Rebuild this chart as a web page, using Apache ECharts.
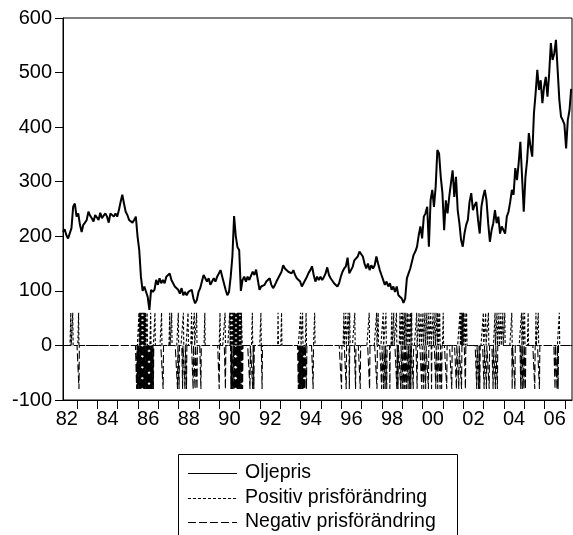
<!DOCTYPE html>
<html>
<head>
<meta charset="utf-8">
<script src="https://cdn.jsdelivr.net/npm/echarts@6/dist/echarts.min.js"></script>
<style>
html,body{margin:0;padding:0;background:#fff;}
#chart{width:573px;height:535px;}
</style>
</head>
<body>
<div id="chart"></div>
<script>
// Oil price, monthly readings starting at priceStart (decimal year)
const priceStart = 1982.31;
const priceStep = 1 / 12;
const oilPrice = [
  208,213,202,196,198,215,254,260,236,242,
  221,208,221,225,230,245,238,233,227,239,
  236,230,243,233,238,242,236,225,242,245,
  236,242,236,248,263,276,260,245,239,230,
  233,225,230,236,200,175,126,100,108,111,
  89,65,102,98,102,120,111,123,114,120,
  114,126,123,132,120,114,108,111,102,95,
  105,92,98,92,98,95,102,86,77,83,
  98,105,117,129,126,117,123,111,117,123,
  117,126,123,138,126,114,102,92,98,
  126,163,237,200,180,175,100,120,126,117,126,
  120,128,135,129,139,120,102,108,108,111,
  117,120,123,111,105,110,117,123,129,135,
  147,141,138,135,138,132,138,129,123,120,
  117,108,105,120,126,133,138,145,129,117,
  126,120,126,120,125,132,143,129,123,120,
  114,114,108,114,126,135,141,145,161,132,
  138,144,156,156,163,172,173,163,150,141,
  150,138,147,141,147,163,150,138,129,120,
  111,117,108,114,102,108,98,108,92,
  89,86,78,86,123,132,141,144,166,172,181,
  202,218,196,236,242,254,181,266,285,254,
  291,358,352,309,279,211,266,242,272,297,
  321,272,309,248,224,193,181,205,221,230,
  263,279,248,257,263,230,205,254,272,285,
  266,224,190,211,224,248,224,236,205,218,
  215,205,236,245,263,285,276,325,303,334,
  373,309,245,309,340,389,364,346,425,462,
  505,468,486,444,474,492,456,498,554,523,
  535,560,505,450,419,413,405,361,413,431,470
];

// Weeks (decimal years) with a positive / negative price change marker
const posEvents = [
  1982.69,1982.79,1983.08,
  1986.05,1986.09,1986.13,1986.17,1986.21,1986.25,1986.29,1986.33,1986.38,1986.45,1986.62,1986.83,
  1987.16,1987.57,1987.65,1987.98,1988.23,1988.47,1988.64,1988.77,1988.88,1989.29,
  1990.03,1990.28,1990.52,1990.56,1990.60,1990.64,1990.67,1990.71,1990.74,1990.78,1990.82,1990.86,
  1990.89,1990.93,1990.97,1991.01,1991.04,1991.08,1991.11,1991.63,1992.05,1992.88,1993.06,
  1994.00,1994.10,1994.26,1994.70,1996.13,1996.23,1996.34,1996.42,1996.67,1997.37,1997.74,1997.82,
  1998.06,1998.20,1998.48,1998.59,1998.72,1998.88,1998.96,1999.03,1999.10,1999.18,1999.25,1999.32,
  1999.40,1999.46,1999.71,1999.82,1999.92,2000.02,2000.12,2000.21,2000.31,2000.41,2000.51,2000.61,
  2000.71,2000.77,2000.85,2001.01,2001.84,2001.90,2001.96,2002.02,2002.08,2002.17,2002.98,2003.11,
  2003.23,2003.56,2003.66,2003.75,2003.85,2003.95,2004.05,2004.38,2004.87,2004.95,2005.03,2005.20,
  2005.57,2005.69,2006.72
];
const negEvents = [
  1983.10,
  1985.93,1985.97,1986.01,1986.06,1986.10,1986.14,1986.18,1986.22,1986.26,1986.30,1986.34,
  1986.39,1986.43,1986.47,1986.50,1986.55,1986.59,1986.63,1986.67,1986.71,1986.75,
  1987.24,1987.95,1988.03,1988.20,1988.31,1988.39,1988.72,1988.80,1988.90,1989.10,
  1990.00,1990.30,1990.57,1990.61,1990.66,1990.69,1990.73,1990.77,1990.82,1990.86,1990.90,
  1990.94,1990.98,1991.02,1991.06,1991.10,1991.15,1991.51,1991.65,1991.70,1992.11,
  1993.88,1993.92,1993.97,1994.01,1994.05,1994.09,1994.13,1994.17,1994.21,1994.28,1994.62,
  1996.02,1996.25,1996.39,1996.70,1996.93,1997.39,1997.76,1997.98,1998.08,1998.15,1998.23,1998.39,
  1998.74,1998.80,1998.92,1999.00,1999.07,1999.14,1999.21,1999.29,1999.36,1999.43,1999.54,1999.74,
  1999.97,2000.06,2000.16,2000.28,2000.44,2000.66,2000.75,2000.87,2000.94,2001.18,2001.43,
  2001.67,2001.79,2001.92,2002.10,2002.66,2002.75,2002.82,2003.02,2003.15,2003.28,2003.47,
  2003.58,2003.67,2004.40,2004.54,2004.82,2004.91,2004.98,2005.05,2005.52,2005.74,
  2006.51,2006.61,2006.67
];
const posLevel = 60;
const negLevel = -80;

const xMin = 1982.31, xMax = 2007.35;
const tickYears = [];
for (let y = 1983; y <= 2007; y++) tickYears.push(y);
const labelYears = [];
for (let y = 1982; y <= 2006; y += 2) labelYears.push(y + 0.5);

const seriesNames = ['Oljepris', 'Positiv prisförändring', 'Negativ prisförändring'];
const seriesDash = ['solid', [3, 2], [8, 3]];

// build data
const priceData = oilPrice.map((v, i) => [priceStart + i * priceStep, v]);
const weekStep = 7 / 365.25;
const nWeeks = Math.ceil((xMax - xMin) / weekStep) + 1;
const posArr = new Array(nWeeks).fill(0);
const negArr = new Array(nWeeks).fill(0);
posEvents.forEach(y => { const i = Math.round((y - xMin) / weekStep); if (i >= 0 && i < nWeeks) posArr[i] = posLevel; });
negEvents.forEach(y => { const i = Math.round((y - xMin) / weekStep); if (i >= 0 && i < nWeeks) negArr[i] = negLevel; });
const posData = posArr.map((v, i) => [xMin + i * weekStep, v]);
const negData = negArr.map((v, i) => [xMin + i * weekStep, v]);

const FONT = 'Liberation Sans, Arial, sans-serif';

// legend drawn as graphic (box runs off the bottom edge like the original)
const legendGraphic = [{
  type: 'rect', shape: {x: 178.5, y: 454.5, width: 279, height: 120},
  style: {fill: '#fff', stroke: '#000', lineWidth: 1}, z: 10
}];
seriesNames.forEach((name, k) => {
  const cy = 473 + k * 24.5;
  legendGraphic.push({
    type: 'line', shape: {x1: 188, y1: Math.round(cy) + 0.5, x2: 237, y2: Math.round(cy) + 0.5},
    style: {stroke: '#000', lineWidth: 1, lineDash: seriesDash[k] === 'solid' ? null : seriesDash[k]}, z: 11
  });
  legendGraphic.push({
    type: 'text', x: 245, y: cy,
    style: {text: name, font: '19.5px ' + FONT, fill: '#000', verticalAlign: 'middle', align: 'left'}, z: 11
  });
});

const chart = echarts.init(document.getElementById('chart'), null, {renderer: 'canvas'});
chart.setOption({
  animation: false,
  backgroundColor: '#fff',
  grid: {left: 63, right: 1, top: 18, bottom: 135, show: true, borderColor: '#000', borderWidth: 1, containLabel: false},
  xAxis: {
    type: 'value', min: xMin, max: xMax,
    axisLine: {show: true, onZero: false, lineStyle: {color: '#000', width: 1}},
    axisTick: {show: true, length: 9, inside: false, customValues: tickYears, lineStyle: {color: '#000'}},
    axisLabel: {show: true, customValues: labelYears, margin: 9, color: '#000', fontSize: 20, fontFamily: FONT,
      formatter: v => String(Math.floor(v) % 100).padStart(2, '0')},
    splitLine: {show: false}
  },
  yAxis: {
    type: 'value', min: -100, max: 600, interval: 100,
    axisLine: {show: true, lineStyle: {color: '#000', width: 1}},
    axisTick: {show: true, length: 8, inside: false, lineStyle: {color: '#000'}},
    axisLabel: {show: true, margin: 11, color: '#000', fontSize: 20, fontFamily: FONT},
    splitLine: {show: false}
  },
  graphic: legendGraphic,
  series: [
    {name: seriesNames[1], type: 'line', data: posData, showSymbol: false, symbol: 'none',
     lineStyle: {color: '#000', width: 1.1, type: seriesDash[1]}, itemStyle: {color: '#000'}, z: 2},
    {name: seriesNames[2], type: 'line', data: negData, showSymbol: false, symbol: 'none',
     lineStyle: {color: '#000', width: 1.1, type: seriesDash[2]}, itemStyle: {color: '#000'}, z: 2},
    {name: seriesNames[0], type: 'line', data: priceData, showSymbol: false, symbol: 'none',
     lineStyle: {color: '#000', width: 2}, itemStyle: {color: '#000'}, z: 3}
  ]
});
</script>
</body>
</html>
